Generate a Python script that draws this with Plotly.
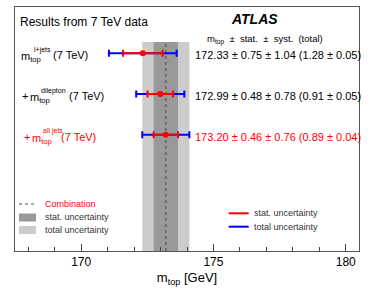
import plotly.graph_objects as go

# ---- data ----
labels = ["l+jets", "dilepton", "all jets"]
prefixes = ["", "+ ", "+ "]
mtop = [172.33, 172.99, 173.20]
stat = [0.75, 0.48, 0.46]
syst = [1.04, 0.78, 0.76]
total = [1.28, 0.91, 0.89]
total_err = [0.05, 0.05, 0.04]
row_colors = ["black", "black", "red"]
rows = [3, 2, 1]
comb = 173.20
comb_stat = 0.46
comb_total = 0.89
x_ticks = [170, 175, 180]

W, H = 374, 292
L, R, T, B = 15, 15, 7, 41
PW, PH = W - L - R, H - T - B
YMIN, YMAX = -1.86, 4.14


def xp(px):
    return (px - L) / PW


def yp(py):
    return (H - B - py) / PH


FONT = "Liberation Sans, Arial, Helvetica, sans-serif"

fig = go.Figure()

# total uncertainty (blue)
fig.add_trace(go.Scatter(
    x=mtop, y=rows, mode="markers",
    marker=dict(color="rgba(0,0,0,0)", size=1),
    error_x=dict(type="data", array=total, color="#0000ff", thickness=2, width=3.5),
    showlegend=False, hoverinfo="skip"))
# stat uncertainty (red)
fig.add_trace(go.Scatter(
    x=mtop, y=rows, mode="markers",
    marker=dict(color="#ff0000", size=6),
    error_x=dict(type="data", array=stat, color="#ff0000", thickness=2, width=3.5),
    showlegend=False, hoverinfo="skip"))

shapes = []
band_top = 3.28
shapes.append(dict(type="rect", xref="x", yref="y", x0=comb - comb_total, x1=comb + comb_total,
                   y0=YMIN, y1=band_top, fillcolor="#cccccc", line=dict(width=0), layer="below"))
shapes.append(dict(type="rect", xref="x", yref="y", x0=comb - comb_stat, x1=comb + comb_stat,
                   y0=YMIN, y1=band_top, fillcolor="#999999", line=dict(width=0), layer="below"))
shapes.append(dict(type="line", xref="x", yref="y", x0=comb, x1=comb, y0=YMIN, y1=band_top,
                   line=dict(color="#4a4a4a", width=1, dash="dot"), layer="below"))

# left legend
shapes.append(dict(type="line", xref="paper", yref="paper", x0=xp(19), x1=xp(36), y0=yp(204), y1=yp(204),
                   line=dict(color="#555555", width=1, dash="dot")))
shapes.append(dict(type="rect", xref="paper", yref="paper", x0=xp(19), x1=xp(36), y0=yp(221.5), y1=yp(213.5),
                   fillcolor="#999999", line=dict(width=0)))
shapes.append(dict(type="rect", xref="paper", yref="paper", x0=xp(19), x1=xp(36), y0=yp(234), y1=yp(226),
                   fillcolor="#cccccc", line=dict(width=0)))
# right legend
shapes.append(dict(type="line", xref="paper", yref="paper", x0=xp(228.7), x1=xp(248.7), y0=yp(213.3), y1=yp(213.3),
                   line=dict(color="#ff0000", width=2)))
shapes.append(dict(type="line", xref="paper", yref="paper", x0=xp(228.7), x1=xp(248.7), y0=yp(226.7), y1=yp(226.7),
                   line=dict(color="#0000ff", width=2)))

ann = []


def text(px, py, s, size, color="black", anchor="left", bold=False, italic=False):
    if bold:
        s = "<b>" + s + "</b>"
    if italic:
        s = "<i>" + s + "</i>"
    ann.append(dict(xref="paper", yref="paper", x=xp(px), y=yp(py), text=s, showarrow=False,
                    xanchor=anchor, yanchor="middle", font=dict(family=FONT, size=size, color=color)))


text(18, 22, "Results from 7 TeV data", 12)
text(254.5, 19, "ATLAS", 14, anchor="center", bold=True, italic=True)
text(205, 40, "m<sub>top</sub>  ±  stat.  ±  syst.  (total)", 9.5)

row_py = [53.3, 94.3, 134.7]
m_x = [19.3, 28.3, 30.7]
pfx_x = [19.3, 20.0, 21.5]
sup_x = [31.7, 39.3, 41.3]
tev_x = [50.7, 67.3, 58.7]
for i in range(3):
    py = row_py[i]
    c = row_colors[i]
    if prefixes[i]:
        text(pfx_x[i], py + 2, prefixes[i].strip(), 11, c)
    text(m_x[i] - 0.5, py + 4, "m<sub>top</sub>", 11, c)
    text(sup_x[i], py - 3.5, labels[i], 7, c)
    text(tev_x[i], py + 2, "(7 TeV)", 11, c)
    val = f"{mtop[i]:.2f} ± {stat[i]:.2f} ± {syst[i]:.2f} ({total[i]:.2f} ± {total_err[i]:.2f})"
    text(193, py + 2, val, 11, c)

text(42.7, 204, "Combination", 9, "#ff0000")
text(42.7, 217.5, "stat. uncertainty", 9, "#333333")
text(42.7, 230, "total uncertainty", 9, "#333333")
text(252.3, 213.3, "stat. uncertainty", 9, "#333333")
text(252.3, 226.7, "total uncertainty", 9, "#333333")

fig.update_layout(
    width=W, height=H,
    margin=dict(l=L, r=R, t=T, b=B),
    paper_bgcolor="white", plot_bgcolor="white",
    shapes=shapes, annotations=ann,
    font=dict(family=FONT, size=12, color="black"),
    xaxis=dict(range=[167.5, 180.5], tickvals=x_ticks, ticks="inside", ticklen=7, tickcolor="#444",
               minor=dict(dtick=1, ticks="inside", ticklen=4, tickcolor="#444"),
               showline=True, linecolor="#555", linewidth=1, mirror=True, showgrid=False, zeroline=False,
               tickfont=dict(family=FONT, size=12),
               title=dict(text="m<sub>top</sub> [GeV]", font=dict(family=FONT, size=13), standoff=4)),
    yaxis=dict(range=[YMIN, YMAX], showticklabels=False, ticks="", showgrid=False, zeroline=False,
               showline=True, linecolor="#555", linewidth=1, mirror=True),
)

fig.write_html("out.html", config={"displayModeBar": False},
               post_script="document.body.style.margin='0px';document.body.style.padding='0px';")
